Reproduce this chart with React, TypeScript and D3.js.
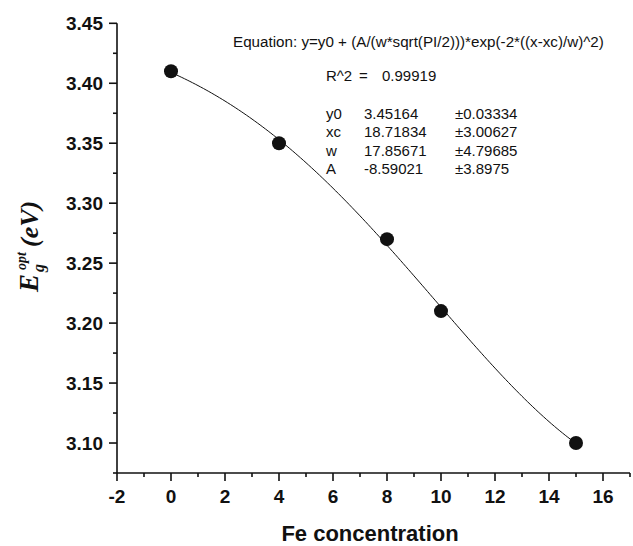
import React from "react";
import * as d3 from "d3";

const concentration = [0, 4, 8, 10, 15];
const bandGap = [3.41, 3.35, 3.27, 3.21, 3.1];

const xMajorTicks = [-2, 0, 2, 4, 6, 8, 10, 12, 14, 16];
const xMinorTicks = [-1, 1, 3, 5, 7, 9, 11, 13, 15, 17];
const yMajorTicks = [3.1, 3.15, 3.2, 3.25, 3.3, 3.35, 3.4, 3.45];
const yMinorTicks = [3.075, 3.125, 3.175, 3.225, 3.275, 3.325, 3.375, 3.425];

// Fit parameters as printed on the chart (Gauss fit)
const paramNames = ["y0", "xc", "w", "A"];
const paramValues = [3.45164, 18.71834, 17.85671, -8.59021];
const paramErrors = ["±0.03334", "±3.00627", "±4.79685", "±3.8975"];
const paramLabels = ["3.45164", "18.71834", "17.85671", "-8.59021"];
const rSquared = "0.99919";
const equationText = "Equation: y=y0 + (A/(w*sqrt(PI/2)))*exp(-2*((x-xc)/w)^2)";

const W = 633;
const H = 546;
const SANS = "'Liberation Sans', Arial, sans-serif";
const SERIF = "'Liberation Serif', 'Times New Roman', serif";

export default function App() {
  const x = d3.scaleLinear().domain([-2, 17]).range([117, 630]);
  const y = d3.scaleLinear().domain([3.075, 3.45]).range([473, 23.3]);

  const [y0, xc, w, A] = paramValues;
  const fit = (v: number) =>
    y0 + (A / (w * Math.sqrt(Math.PI / 2))) * Math.exp(-2 * ((v - xc) / w) ** 2);
  const xs = d3.range(d3.min(concentration)!, d3.max(concentration)! + 0.001, 0.1);
  const line = d3
    .line<number>()
    .x((v) => x(v))
    .y((v) => y(fit(v)));

  const axisX = x(-2);
  const axisY = y(3.075);

  return (
    <svg
      width={W}
      height={H}
      style={{ position: "absolute", left: 0, top: 0, background: "#fff" }}
    >
      <rect width={W} height={H} fill="#fff" />
      {/* Fit curve */}
      <path d={line(xs) || ""} fill="none" stroke="#111" strokeWidth={1} />
      {/* Data points */}
      {concentration.map((c, i) => (
        <circle key={i} cx={x(c)} cy={y(bandGap[i])} r={7} fill="#111" />
      ))}

      {/* Y axis */}
      <line x1={axisX} x2={axisX} y1={y(3.45)} y2={axisY} stroke="#111" strokeWidth={1.6} />
      {yMajorTicks.map((t) => (
        <g key={"ym" + t}>
          <line x1={axisX - 8} x2={axisX} y1={y(t)} y2={y(t)} stroke="#111" strokeWidth={1.6} />
          <text
            x={axisX - 14}
            y={y(t)}
            dy="0.36em"
            textAnchor="end"
            fontFamily={SANS}
            fontWeight="bold"
            fontSize={19}
            fill="#111"
          >
            {d3.format(".2f")(t)}
          </text>
        </g>
      ))}
      {yMinorTicks.map((t) => (
        <line key={"yn" + t} x1={axisX - 4} x2={axisX} y1={y(t)} y2={y(t)} stroke="#111" strokeWidth={1.6} />
      ))}

      {/* X axis */}
      <line x1={axisX} x2={x(17)} y1={axisY} y2={axisY} stroke="#111" strokeWidth={1.6} />
      {xMajorTicks.map((t) => (
        <g key={"xm" + t}>
          <line x1={x(t)} x2={x(t)} y1={axisY} y2={axisY + 8} stroke="#111" strokeWidth={1.6} />
          <text
            x={x(t)}
            y={503}
            textAnchor="middle"
            fontFamily={SANS}
            fontWeight="bold"
            fontSize={19}
            fill="#111"
          >
            {t}
          </text>
        </g>
      ))}
      {xMinorTicks.map((t) => (
        <line key={"xn" + t} x1={x(t)} x2={x(t)} y1={axisY} y2={axisY + 4} stroke="#111" strokeWidth={1.6} />
      ))}

      {/* X axis title */}
      <text
        x={370}
        y={541}
        textAnchor="middle"
        fontFamily={SANS}
        fontWeight="bold"
        fontSize={22}
        fill="#111"
      >
        Fe concentration
      </text>

      {/* Y axis title */}
      <g transform="translate(38,292) rotate(-90)">
        <text x={0} y={0} fontFamily={SERIF} fontWeight="bold" fontStyle="italic" fontSize={27} fill="#111">
          E
        </text>
        <text x={20} y={6} fontFamily={SERIF} fontWeight="bold" fontStyle="italic" fontSize={16} fill="#111">
          g
        </text>
        <text x={22} y={-12} fontFamily={SERIF} fontWeight="bold" fontStyle="italic" fontSize={14} fill="#111">
          opt
        </text>
        <text x={45} y={0} fontFamily={SERIF} fontWeight="bold" fontStyle="italic" fontSize={26} fill="#111">
          (eV)
        </text>
      </g>

      {/* Fit annotation */}
      <text x={233} y={46.5} fontFamily={SANS} fontSize={15.2} fill="#111">
        {equationText}
      </text>
      <text x={326} y={80.5} fontFamily={SANS} fontSize={15} fill="#111">
        R^2
      </text>
      <text x={359} y={80.5} fontFamily={SANS} fontSize={15} fill="#111">
        =
      </text>
      <text x={382} y={80.5} fontFamily={SANS} fontSize={15} fill="#111">
        {rSquared}
      </text>
      {paramNames.map((n, i) => (
        <g key={n}>
          <text x={326} y={118.5 + i * 18.5} fontFamily={SANS} fontSize={15} fill="#111">
            {n}
          </text>
          <text x={364} y={118.5 + i * 18.5} fontFamily={SANS} fontSize={15} fill="#111">
            {paramLabels[i]}
          </text>
          <text x={455} y={118.5 + i * 18.5} fontFamily={SANS} fontSize={15} fill="#111">
            {paramErrors[i]}
          </text>
        </g>
      ))}
    </svg>
  );
}
